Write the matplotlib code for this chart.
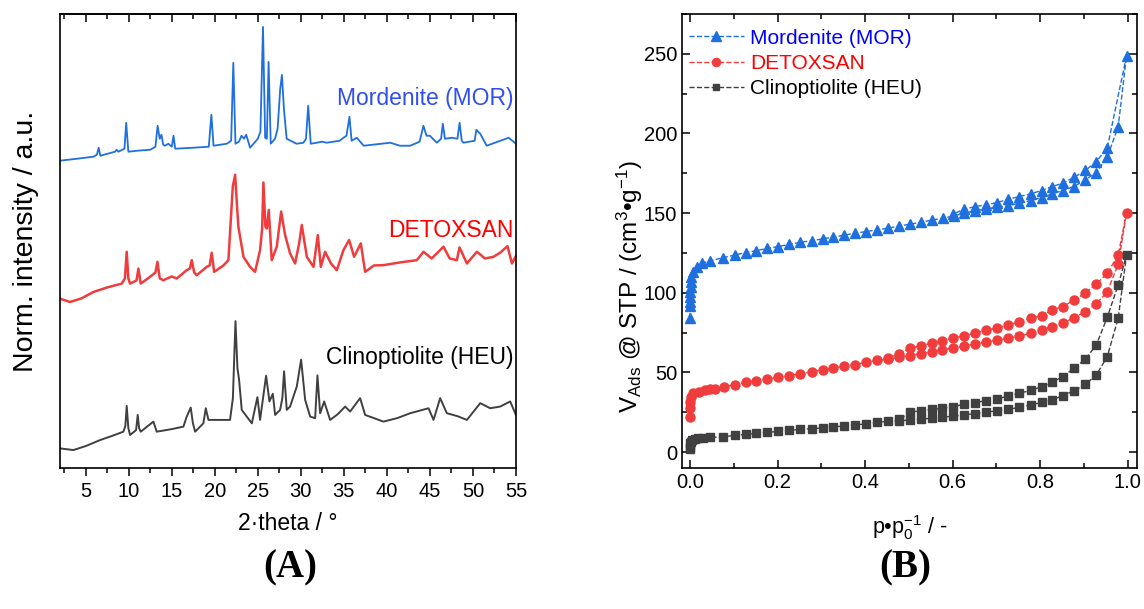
import matplotlib
matplotlib.use('Agg')
import matplotlib.pyplot as plt
from matplotlib.ticker import MultipleLocator, FormatStrFormatter

plt.rcParams['font.family'] = ['Liberation Sans', 'DejaVu Sans']
plt.rcParams['mathtext.fontset'] = 'custom'
plt.rcParams['mathtext.rm'] = 'Liberation Sans'
plt.rcParams['mathtext.it'] = 'Liberation Sans:italic'

# (A) XRD patterns (2theta in deg, intensity in a.u. incl. offset)
theta_mor = [2.0, 4.0, 5.9, 6.3, 6.5, 6.7, 8.4, 8.6, 8.8, 9.5, 9.7, 9.95, 11.0, 12.5,
             13.1, 13.35, 13.6, 13.8, 14.0, 14.2, 14.6, 15.0, 15.2, 15.4, 17.5, 19.3,
             19.6, 19.85, 21.4, 21.9, 22.15, 22.4, 22.8, 23.1, 23.4, 23.65, 24.1, 25.0,
             25.3, 25.6, 25.85, 26.05, 26.25, 26.5, 27.0, 27.3, 27.6, 27.8, 28.05, 28.35,
             29.5, 30.3, 30.6, 30.85, 31.15, 32.5, 33.0, 34.5, 34.95, 35.3, 35.65, 35.9,
             36.5, 37.3, 40.4, 41.5, 42.7, 43.8, 44.25, 44.6, 45.0, 45.8, 46.3, 46.5,
             46.75, 47.55, 48.2, 48.45, 48.7, 48.9, 50.2, 50.4, 50.85, 51.6, 53.2, 54.15, 55.0]
int_mor = [308, 310, 312, 314, 321, 313, 317, 319, 317, 320, 346, 317, 318, 319,
           322, 343, 330, 334, 324, 323, 325, 322, 333, 320, 321, 322,
           354, 323, 325, 328, 406, 325, 327, 333, 330, 334, 321, 330,
           337, 442, 331, 330, 407, 325, 330, 340, 380, 394, 358, 330,
           325, 326, 330, 363, 325, 327, 326, 328, 331, 333, 352, 328,
           331, 323, 326, 323, 323, 327, 343, 333, 333, 326, 330, 345,
           330, 331, 330, 346, 328, 326, 328, 339, 335, 323, 328, 331, 325]

theta_det = [2.0, 3.17, 4.5, 5.88, 7.5, 9.18, 9.55, 9.76, 9.95, 10.15, 10.9, 11.12, 11.39,
             12.47, 13.1, 13.33, 13.6, 14.02, 15.0, 15.57, 16.74, 17.1, 17.32, 17.6, 17.9,
             19.06, 19.4, 19.64, 19.92, 21.0, 21.58, 22.09, 22.36, 22.6, 22.74, 23.33, 24.1,
             24.68, 25.26, 25.5, 25.65, 25.88, 26.05, 26.27, 26.62, 27.2, 27.71, 28.17, 28.75,
             29.33, 29.8, 30.11, 30.69, 31.47, 31.97, 32.32, 32.82, 33.5, 34.18, 34.95, 35.61,
             36.19, 36.97, 37.47, 38.5, 39.6, 41.5, 43.48, 44.26, 45.2, 46.19, 46.58, 47.3,
             48.13, 48.44, 49.3, 50.46, 51.4, 52.4, 53.2, 54.02, 54.53, 55.0]
int_det = [169.7, 166.4, 170, 176.4, 181, 184.8, 190, 216.7, 190, 184.8, 188, 199.9, 184.8,
           191.6, 196, 206.7, 190, 188.2, 192, 189.9, 198.3, 200, 208.3, 196, 193.2,
           201.6, 203, 215.7, 196.6, 203, 208.3, 282.2, 293.9, 260, 241.9, 211.7, 201.6,
           196.6, 218.4, 240, 286.2, 241.9, 240, 258.7, 208.3, 221.8, 257, 233.5, 215,
           205, 225, 243.6, 211.7, 201.6, 233.5, 201.6, 216.7, 205, 198.3, 218.4, 228.5,
           211.7, 225.1, 196.6, 203, 203.3, 206, 208.3, 216.7, 210, 218.4, 221.8, 210,
           208.3, 221.1, 205, 216.7, 210, 211.7, 216, 222.4, 205, 212.4]

theta_heu = [2.0, 3.56, 5.0, 6.66, 8.0, 9.37, 9.6, 9.76, 9.95, 10.15, 10.85, 11.04, 11.2,
             11.39, 12.86, 13.25, 15.0, 16.35, 16.74, 17.2, 17.45, 17.71, 18.67, 18.95, 19.26,
             21.77, 22.1, 22.4, 22.63, 22.82, 23.13, 24.3, 24.95, 25.26, 25.96, 26.35, 26.74,
             27.01, 27.59, 27.85, 28.05, 28.36, 28.75, 29.53, 30.03, 30.5, 31.08, 31.66, 31.93,
             32.24, 32.71, 33.4, 34.3, 35.15, 35.73, 36.89, 37.47, 38.5, 39.6, 41.2, 42.71,
             44.84, 45.42, 46.19, 46.97, 48.2, 49.3, 50.85, 52.01, 53.17, 54.33, 55.0]
int_heu = [19.7, 18, 22, 28, 32, 36.4, 42, 62.3, 40, 33.1, 38, 53.2, 40,
           36.4, 46.5, 36.4, 39, 41.5, 51.6, 60.6, 45, 36.4, 44.8, 59.9, 48.2,
           48.2, 70, 147.2, 100.2, 88.5, 58.3, 44.8, 71, 48.2, 92.5, 66.7, 74.4,
           53.2, 58.3, 70, 96.9, 58.3, 61.6, 81.8, 108.6, 68.3, 51.6, 49.9, 92.8,
           54.9, 66.7, 48.2, 54, 61.6, 56.6, 70, 53.2, 50, 46.5, 50, 54.9,
           59.9, 48.2, 70, 54.9, 52, 48.2, 65, 59.9, 61.6, 66.7, 53.2]

# (B) N2 isotherms: adsorption and desorption branches (p/p0, cm3/g)
p_mor_ads = [0.0002, 0.0004, 0.0006, 0.0008, 0.001, 0.0015, 0.002, 0.003,
             0.0076, 0.015, 0.027, 0.046, 0.076,
             0.103, 0.127, 0.152, 0.177, 0.2015, 0.227, 0.252, 0.278, 0.303, 0.327,
             0.352, 0.376, 0.402, 0.427, 0.452, 0.478, 0.502, 0.528, 0.553, 0.578, 0.602,
             0.626, 0.651, 0.676, 0.701, 0.727, 0.752, 0.778, 0.803, 0.827, 0.851,
             0.877, 0.903, 0.928, 0.953, 0.978, 0.997]
v_mor_ads = [84, 91.4, 94.2, 97.4, 100.5, 103.7, 106.8, 110,
             113.3, 116.4, 118.5, 120, 122.1,
             123.7, 125.2, 126.5, 127.9, 129, 130.4, 131.7, 132.7, 133.8, 135,
             136.1, 137.4, 138.4, 139.5, 140.5, 142, 143, 144.3, 145.7, 146.8, 148.2,
             150, 151.6, 152.6, 153.7, 154.7, 156.2, 157.9, 159.8, 162.1, 164.2,
             166.7, 170.9, 175.5, 185.1, 204.3, 248.7]
p_mor_des = [0.953, 0.928, 0.903, 0.877, 0.851, 0.827, 0.803, 0.778, 0.752, 0.727,
             0.701, 0.676, 0.651, 0.626, 0.601]
v_mor_des = [190.8, 182.4, 176.8, 172.4, 168.8, 166.7, 164.2, 162.1, 160.4, 158.7,
             156.6, 155.2, 154.1, 152.4, 149.5]

p_det_ads = [0.0002, 0.0005, 0.001, 0.002, 0.0076, 0.02, 0.035, 0.046, 0.057, 0.078,
             0.103, 0.127, 0.152, 0.177, 0.202, 0.227, 0.252, 0.278, 0.303, 0.327,
             0.352, 0.376, 0.402, 0.427, 0.452, 0.478, 0.502, 0.527, 0.552, 0.576,
             0.601, 0.626, 0.651, 0.676, 0.702, 0.727, 0.752, 0.778, 0.803, 0.827,
             0.851, 0.877, 0.903, 0.928, 0.953, 0.978, 0.997]
v_det_ads = [21.8, 27.4, 31.6, 34.8, 36.9, 38, 38.8, 39.3, 39.8, 40.9,
             42.3, 43.8, 44.8, 45.9, 46.9, 48, 49.2, 50.3, 51.8, 52.8,
             53.9, 54.9, 56.4, 57.5, 58.3, 59.5, 60.6, 61.8, 63, 64.2,
             65.4, 66.6, 67.8, 69, 70.2, 71.4, 72.9, 74.5, 76.6, 78.7,
             80.8, 84.4, 88.1, 93, 100.7, 117.9, 150.1]
p_det_des = [0.978, 0.953, 0.928, 0.903, 0.877, 0.851, 0.827, 0.803, 0.778, 0.752,
             0.727, 0.702, 0.676, 0.651, 0.626, 0.601, 0.576, 0.552, 0.527, 0.502,
             0.478, 0.452]
v_det_des = [123.7, 112.2, 105.5, 99.9, 95.3, 91.3, 89.2, 85.6, 84, 81.7,
             79.8, 78.2, 76.4, 74.7, 73, 71.5, 69.8, 68.4, 66.7, 65.2,
             61.6, 59]

p_heu_ads = [0.0002, 0.0005, 0.001, 0.002, 0.005, 0.011, 0.019, 0.03, 0.046, 0.076,
             0.103, 0.127, 0.152, 0.177, 0.202, 0.227, 0.252, 0.278, 0.303, 0.327,
             0.352, 0.376, 0.402, 0.427, 0.452, 0.478, 0.502, 0.527, 0.552, 0.576,
             0.601, 0.626, 0.651, 0.676, 0.702, 0.727, 0.752, 0.778, 0.803, 0.827,
             0.851, 0.877, 0.903, 0.928, 0.953, 0.978, 0.997]
v_heu_ads = [1.7, 3.4, 5.4, 6.5, 7.5, 8.1, 8.6, 8.8, 9.2, 9.6,
             10.5, 11.1, 11.7, 12.4, 13, 13.6, 14.3, 14.7, 15.1, 15.8,
             16.4, 17, 17.7, 18.7, 19.3, 19.7, 20.1, 20.8, 21.2, 21.9,
             22.5, 23.3, 24.2, 25, 26, 26.8, 28.1, 29.5, 31.2, 32.7,
             35.4, 38.5, 42.5, 48.4, 59.9, 84, 123.5]
p_heu_des = [0.978, 0.953, 0.928, 0.903, 0.877, 0.851, 0.827, 0.803, 0.778, 0.752,
             0.727, 0.702, 0.676, 0.651, 0.626, 0.601, 0.576, 0.552, 0.527, 0.502,
             0.478]
v_heu_des = [104.9, 84.6, 67.2, 58.4, 52.6, 47.3, 43.8, 41, 38.7, 36.9,
             35.2, 33.3, 32.3, 31, 30, 28.5, 27.4, 26.8, 26, 24.9,
             20.5]

c_blue = '#1f6fdf'
c_red = '#f03c3c'
c_gray = '#404040'

fig = plt.figure(figsize=(11.44, 6.09), dpi=100)
ax1 = fig.add_axes([0.0524, 0.2315, 0.3986, 0.7455])
ax2 = fig.add_axes([0.5962, 0.2315, 0.3977, 0.7455])

# ---- panel A
ax1.plot(theta_mor, int_mor, color=c_blue, lw=1.3)
ax1.plot(theta_det, int_det, color=c_red, lw=1.8)
ax1.plot(theta_heu, int_heu, color=c_gray, lw=1.4)
ax1.set_xlim(2, 55)
ax1.set_ylim(0, 455)
ax1.set_yticks([])
ax1.set_xticks(range(5, 56, 5))
ax1.xaxis.set_minor_locator(MultipleLocator(2.5))
ax1.tick_params(axis='x', which='major', direction='out', length=6, width=1.1, labelsize=14.5, pad=4)
ax1.tick_params(axis='x', which='minor', direction='out', length=3.5, width=1.1)
top = ax1.secondary_xaxis('top')
top.xaxis.set_major_locator(MultipleLocator(5))
top.xaxis.set_minor_locator(MultipleLocator(2.5))
top.tick_params(which='major', direction='in', length=6, width=1.1, labeltop=False)
top.tick_params(which='minor', direction='in', length=3.5, width=1.1)
top.spines['top'].set_linewidth(1.2)
for s in ax1.spines.values():
    s.set_linewidth(1.2)
ax1.set_xlabel('2·theta / °', fontsize=16.5, labelpad=8)
ax1.set_ylabel('Norm. intensity / a.u.', fontsize=20.5, labelpad=15)
ax1.text(54.75, 370, 'Mordenite (MOR)', color='#2f4ff0', fontsize=16.5, ha='right', va='center')
ax1.text(54.75, 238, 'DETOXSAN', color='#ff0000', fontsize=16.5, ha='right', va='center')
ax1.text(54.75, 111, 'Clinoptiolite (HEU)', color='black', fontsize=16.5, ha='right', va='center')

# ---- panel B
series = [
    (p_mor_ads + p_mor_des, v_mor_ads + v_mor_des, c_blue, '^', 7.5, 'Mordenite (MOR)'),
    (p_det_ads + p_det_des, v_det_ads + v_det_des, c_red, 'o', 6.5, 'DETOXSAN'),
    (p_heu_ads + p_heu_des, v_heu_ads + v_heu_des, c_gray, 's', 5.5, 'Clinoptiolite (HEU)'),
]
for p, v, c, m, ms, lab in series:
    ax2.plot(p, v, ls='--', lw=1.0, color=c, marker=m, ms=ms, mec=c, mfc=c, label=lab)

ax2.set_xlim(-0.018, 1.021)
ax2.set_ylim(-10, 275)
ax2.xaxis.set_major_locator(MultipleLocator(0.2))
ax2.xaxis.set_minor_locator(MultipleLocator(0.1))
ax2.yaxis.set_major_locator(MultipleLocator(50))
ax2.yaxis.set_minor_locator(MultipleLocator(25))
ax2.xaxis.set_major_formatter(FormatStrFormatter('%.1f'))
ax2.tick_params(which='both', direction='in', top=True, right=True, width=1.1, labelsize=14.5)
ax2.tick_params(which='major', length=6)
ax2.tick_params(which='minor', length=3.5)
for s in ax2.spines.values():
    s.set_linewidth(1.2)
ax2.set_xlabel(r'p•p$_0^{-1}$ / -', fontsize=15.5, labelpad=15)
ax2.set_ylabel(r'V$_{\mathrm{Ads}}$ @ STP / (cm$^{3}$•g$^{-1}$)', fontsize=17.5)
ax2.yaxis.set_label_coords(-0.082, 0.4)

leg = ax2.legend(loc='upper left', bbox_to_anchor=(-0.016, 1.0), frameon=False, fontsize=15,
                 handlelength=2.6, handletextpad=0.3, labelspacing=0.3, borderaxespad=0.3,
                 numpoints=1, markerscale=0.9)
for txt, col in zip(leg.get_texts(), ['#0000ff', '#ff0000', 'black']):
    txt.set_color(col)

fig.text(0.2535, 0.068, '(A)', fontsize=28, fontweight='bold', family='Liberation Serif',
         ha='center', va='center')
fig.text(0.791, 0.068, '(B)', fontsize=28, fontweight='bold', family='Liberation Serif',
         ha='center', va='center')

fig.savefig('out.png', dpi=100)
